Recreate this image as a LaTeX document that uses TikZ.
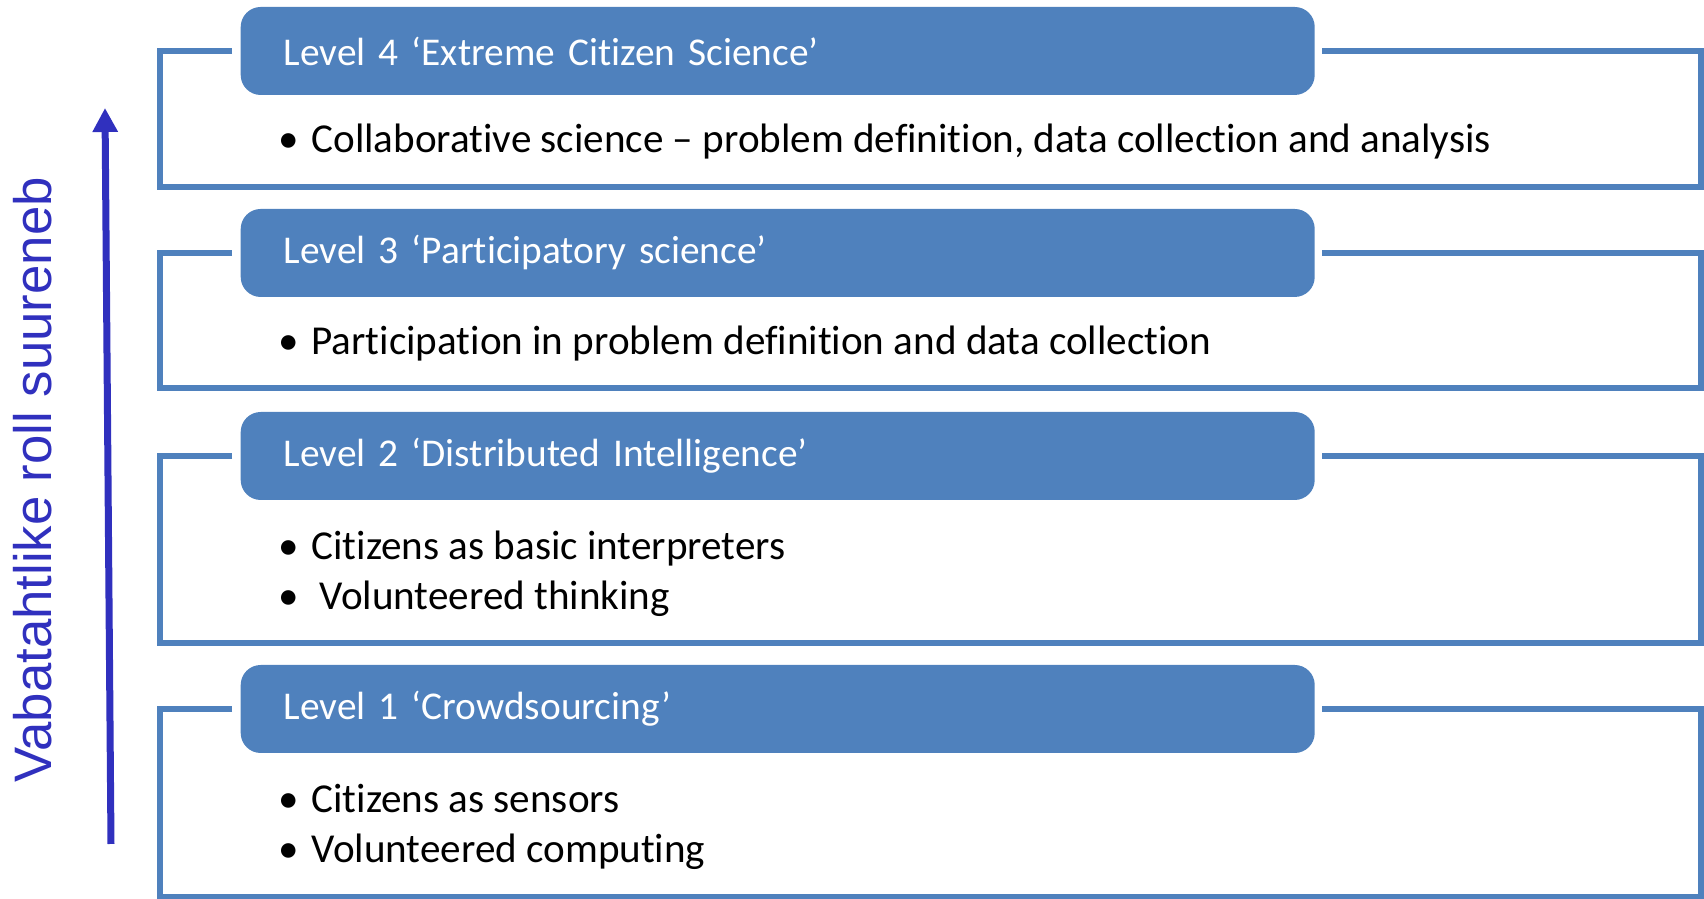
\documentclass[tikz,border=0pt]{standalone}
\usepackage{fontspec}
\setmainfont{Carlito}[RawFeature=-liga]
\newfontfamily\arialfont{Liberation Sans}
\usetikzlibrary{arrows.meta}
\definecolor{levelblue}{RGB}{79,129,189}
\definecolor{arrowblue}{RGB}{48,48,190}
\newcommand{\bul}{•\hspace{0.03cm} }

\begin{document}
\begin{tikzpicture}[
				% 标题框、外框、要点文字与箭头的样式
				header/.style={fill=levelblue, rounded corners=0.2cm, anchor=west, minimum height=0.88cm, text width=9.88cm, inner xsep=0.43cm, align=left, text=white, font=\fontsize{11.2}{14}\selectfont},
				frame/.style={draw=levelblue, line width=0.06cm},
				items/.style={anchor=west, align=left, inner sep=0pt, font=\fontsize{11.7}{14.2}\selectfont},
				rise/.style={-{Triangle[width=0.24cm,length=0.24cm]}, line width=0.07cm, arrowblue}
				]
				\useasboundingbox (0,0) rectangle (17.04,8.99);
				
				% ----- 1. 左侧箭头与竖排文字 -----
				\coordinate (A0) at (1.11, 0.55);
				\coordinate (A1) at (1.05, 7.91);
				\draw[rise] (A0) -- (A1);
				\node[rotate=90, text=arrowblue, font=\arialfont\fontsize{15}{18}\selectfont] (role) at (0.33, 4.19) {Vabatahtlike roll suureneb};
				
				% ----- 2. Level 4 -----
				\node[header] (h4) at (2.40, 8.48) {Level 4 ‘Extreme Citizen Science’};
				\draw[frame] ([xshift=-0.08cm]h4.west) -- (1.60, 8.48) -- (1.60, 7.12) -- (17.01, 7.12) -- (17.01, 8.48) -- ([xshift=0.07cm]h4.east);
				\node[items] (b4) at (2.78, 7.57) {\bul Collaborative science – problem definition, data collection and analysis};
				
				% ----- 3. Level 3 -----
				\node[header] (h3) at (2.40, 6.46) {Level 3 ‘Participatory science’};
				\draw[frame] ([xshift=-0.08cm]h3.west) -- (1.60, 6.46) -- (1.60, 5.11) -- (17.01, 5.11) -- (17.01, 6.46) -- ([xshift=0.07cm]h3.east);
				\node[items] (b3) at (2.78, 5.55) {\bul Participation in problem definition and data collection};
				
				% ----- 4. Level 2 -----
				\node[header] (h2) at (2.40, 4.43) {Level 2 ‘Distributed Intelligence’};
				\draw[frame] ([xshift=-0.08cm]h2.west) -- (1.60, 4.43) -- (1.60, 2.56) -- (17.01, 2.56) -- (17.01, 4.43) -- ([xshift=0.07cm]h2.east);
				\node[items] (b2) at (2.78, 3.25) {\bul Citizens as basic interpreters\\•\hspace{0.11cm} Volunteered thinking};
				
				% ----- 5. Level 1 -----
				\node[header] (h1) at (2.40, 1.90) {Level 1 ‘Crowdsourcing’};
				\draw[frame] ([xshift=-0.08cm]h1.west) -- (1.60, 1.90) -- (1.60, 0.02) -- (17.01, 0.02) -- (17.01, 1.90) -- ([xshift=0.07cm]h1.east);
				\node[items] (b1) at (2.78, 0.72) {\bul Citizens as sensors\\\bul Volunteered computing};
				
			\end{tikzpicture}
\end{document}
